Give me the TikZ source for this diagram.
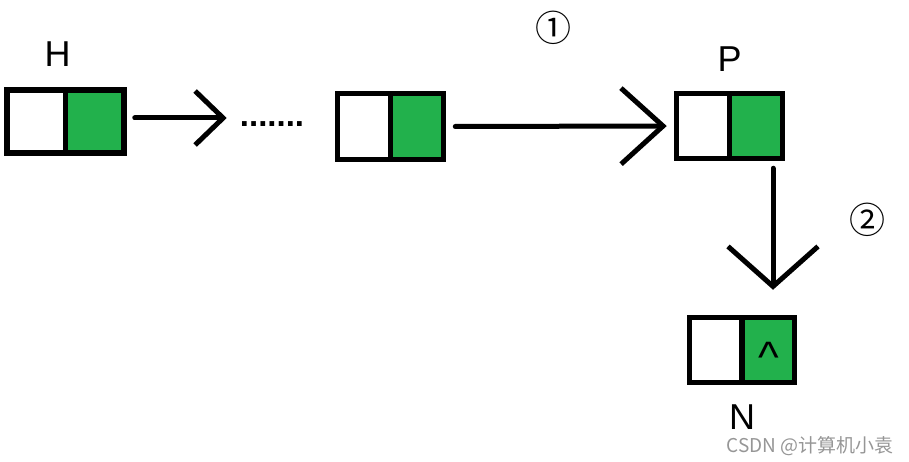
\documentclass[tikz,border=0pt]{standalone}
\usepackage{fontspec}
\setmainfont{Liberation Sans}
\newfontfamily\cjkfont{Noto Sans CJK SC}
\usetikzlibrary{positioning, arrows.meta}
\definecolor{paintgreen}{RGB}{34, 177, 76}
\definecolor{markgray}{RGB}{150, 150, 150}

\tikzset{
  listnode/.style={draw, line width=5.5pt, inner sep=0pt, minimum width=106pt, minimum height=65pt,
    path picture={
      \fill[paintgreen] (path picture bounding box.north) rectangle (path picture bounding box.south east);
      \draw[line width=5.5pt] (path picture bounding box.north) -- (path picture bounding box.south);}},
  link/.style={line width=5pt, line cap=round},
  lbl/.style={inner sep=0pt, font=\fontsize{36}{40}\selectfont}
}

\begin{document}
\begin{tikzpicture}[x=1pt, y=-1pt, node distance=20pt]
  \useasboundingbox (0,0) rectangle (909,462);
  \node[listnode, minimum width=117pt, minimum height=63pt] (h) at (65.5,121.5) {};
  \node[listnode, minimum height=66pt] (mid) at (390.5,126.5) {};
  \node[listnode] (p) at (729.5,126) {};
  \node[listnode, minimum width=105pt] (n) at (742,350) {};
  \node[inner sep=0pt, font=\fontsize{44}{44}\selectfont, yshift=-7pt] (nil) at ([xshift=27pt]n.center) {\textasciicircum};

  \node[lbl, above=21pt of h, xshift=-8pt] (hname) {H};
  \node[lbl, above=19pt of p] (pname) {P};
  \node[lbl, below=19pt of n] (nname) {N};
  \node[inner sep=0pt, font=\bfseries\fontsize{33}{33}\selectfont, anchor=base] (dots) at (272,127) {.......};

  % links
  \draw[link, -{Straight Barb[length=28pt, width=54pt]}, shorten <=8pt, shorten >=13pt]
    ([yshift=3.5pt]h.east) -- ([yshift=3.5pt]h.east -| dots.west);
  \draw[link, -{Straight Barb[length=42pt, width=76pt]}, shorten <=9pt, shorten >=7pt] (mid.east) -- (p.west);
  \draw[link, -{Straight Barb[length=40pt, width=90pt]}, shorten <=7pt, shorten >=25pt]
    ([xshift=43.5pt]p.south) -- ([xshift=43.5pt]p.south |- n.north);

  \node[font=\cjkfont\fontsize{36}{36}\selectfont, inner sep=0pt] (one) at (553,28) {①};
  \node[font=\cjkfont\fontsize{36}{36}\selectfont, inner sep=0pt] (two) at (867,220) {②};

  \node[font=\cjkfont\fontsize{19}{19}\selectfont, text=markgray, inner sep=0pt] (mark) at (810,446) {CSDN @计算机小袁};
\end{tikzpicture}
\end{document}
